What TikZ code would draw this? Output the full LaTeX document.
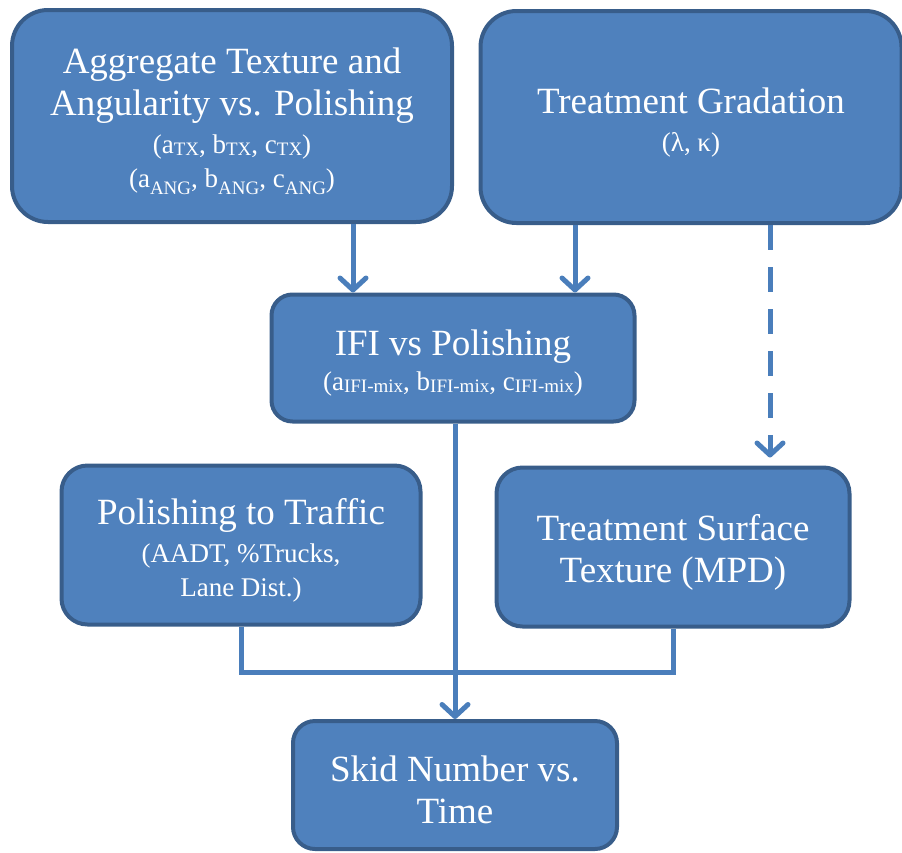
\documentclass[tikz,border=0pt]{standalone}
\usepackage{fontspec}
\setmainfont{Liberation Serif}
\usetikzlibrary{arrows.meta}
\definecolor{boxfill}{HTML}{4F81BD}
\definecolor{boxline}{HTML}{385D8A}
\definecolor{linkblue}{HTML}{4A7EBB}
\newcommand{\bigtxt}{\fontsize{37}{42}\selectfont}
\newcommand{\smalltxt}{\fontsize{27}{34}\selectfont}
\newcommand{\lowsub}[2]{\raisebox{#1}{\fontsize{19}{19}\selectfont #2}}
\newcommand{\toppad}{\rule{0pt}{36pt}}

\begin{document}
\begin{tikzpicture}[x=1pt,y=-1pt,
    stage/.style={draw=boxline,fill=boxfill,line width=4pt,rounded corners=#1,
        text=white,align=center,inner sep=0pt,font=\bigtxt},
    link/.style={draw=linkblue,line width=5pt},
    tip/.style={-{Straight Barb[length=12pt,width=26pt,round]}}]
    \useasboundingbox (0,0) rectangle (902,852);
    \node[stage=36pt,minimum width=440pt,minimum height=212pt] (agg) at (232,116)
        {\toppad Aggregate Texture and\\Angularity vs. Polishing\\[-4pt]
        {\smalltxt (a\lowsub{-2pt}{TX}, b\lowsub{-2pt}{TX}, c\lowsub{-2pt}{TX})}\\[-8pt]
        {\smalltxt (a\lowsub{-7pt}{ANG}, b\lowsub{-7pt}{ANG}, c\lowsub{-7pt}{ANG})}};
    \node[stage=36pt,minimum width=421pt,minimum height=212pt] (grad) at (691,117)
        {\toppad Treatment Gradation\\[-4pt]{\smalltxt (λ, κ)}};
    \node[stage=21pt,minimum width=363pt,minimum height=127pt] (ifi) at (453,358)
        {\toppad IFI vs Polishing\\[-7pt]
        {\smalltxt (a\lowsub{-2pt}{IFI-mix}, b\lowsub{-2pt}{IFI-mix}, c\lowsub{-2pt}{IFI-mix})}};
    \node[stage=26pt,minimum width=359pt,minimum height=159pt] (traffic) at (241,545)
        {\toppad Polishing to Traffic\\[-4pt]{\smalltxt (AADT, \%Trucks,}\\[-8pt]{\smalltxt Lane Dist.)}};
    \node[stage=26pt,minimum width=353pt,minimum height=159pt] (texture) at (673,547)
        {\toppad Treatment Surface\\Texture (MPD)};
    \node[stage=22pt,minimum width=324pt,minimum height=128pt] (skid) at (455,785)
        {\toppad Skid Number vs.\\Time};
    \draw[link,tip] ([xshift=121pt]agg.south) -- ([xshift=121pt]agg.south |- ifi.north);
    \draw[link,tip] ([xshift=-116pt]grad.south) -- ([xshift=-116pt]grad.south |- ifi.north);
    \draw[link,tip,dash pattern=on 25pt off 17pt,shorten >=8pt]
        ([xshift=79pt]grad.south) -- ([xshift=79pt]grad.south |- texture.north);
    \draw[link] (traffic.south) -- ++(0,46) -| (texture.south);
    \draw[link,tip] ([xshift=2pt]ifi.south) -- ([xshift=2pt]ifi.south |- skid.north);
\end{tikzpicture}
\end{document}
